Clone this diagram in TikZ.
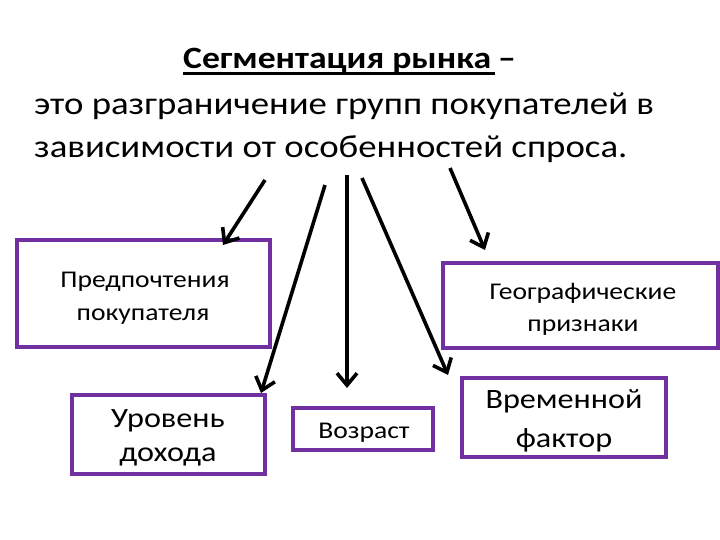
\documentclass[tikz,border=0pt]{standalone}
\usepackage{fontspec}
\usepackage{graphicx}
\setmainfont{Carlito}
\usetikzlibrary{arrows.meta}
\definecolor{boxpurple}{HTML}{7030A0}
\newcommand{\wideX}[1]{\scalebox{1.15}[1]{#1}}
\tikzset{
  segbox/.style={draw=boxpurple, line width=4pt, fill=white, inner sep=0pt},
  segarrow/.style={draw=black, line width=3.6pt, -{Straight Barb[length=12pt,width=20pt,line width=3.6pt]}},
  headtext/.style={anchor=base west, inner sep=0pt, font=\fontsize{32}{38}\selectfont},
  smalltext/.style={anchor=base, inner sep=0pt, font=\fontsize{24}{29}\selectfont},
  bigtext/.style={anchor=base, inner sep=0pt, font=\fontsize{28}{34}\selectfont}
}
\begin{document}
\begin{tikzpicture}[x=1pt,y=-1pt]
\useasboundingbox (0,0) rectangle (720,540);
\node[anchor=base west, inner sep=0pt, font=\fontsize{31}{37}\selectfont\bfseries] (t1) at (183,69) {\wideX{Сегментация рынка}};
\node[anchor=base west, inner sep=0pt, font=\fontsize{31}{37}\selectfont\bfseries] (t1d) at (498,69) {\wideX{–}};
\draw[line width=2.4pt] ([yshift=-4.5pt]t1.base west) -- ([yshift=-4.5pt,xshift=4pt]t1.base east);
\node[headtext] (t2) at (34,115) {\wideX{это разграничение групп покупателей в}};
\node[headtext] (t3) at (34,158) {\wideX{зависимости от особенностей спроса.}};

\node[segbox, minimum width=253pt, minimum height=107pt] (b1) at (143.5,293.5) {};
\node[segbox, minimum width=193pt, minimum height=79pt] (b2) at (168.5,434.5) {};
\node[segbox, minimum width=140pt, minimum height=42pt] (b3) at (363,429) {};
\node[segbox, minimum width=275pt, minimum height=85pt] (b4) at (580.5,305.5) {};
\node[segbox, minimum width=204pt, minimum height=79pt] (b5) at (564,417.5) {};

\node[smalltext] (l1a) at (145,287) {\wideX{Предпочтения}};
\node[smalltext] (l1b) at (143,320) {\wideX{покупателя}};
\node[bigtext] (l2a) at (168,427) {\wideX{Уровень}};
\node[bigtext] (l2b) at (168,461) {\wideX{дохода}};
\node[smalltext] (l3a) at (364,438) {\wideX{Возраст}};
\node[smalltext] (l4a) at (583,299) {\wideX{Географические}};
\node[smalltext] (l4b) at (583,331) {\wideX{признаки}};
\node[bigtext] (l5a) at (564,408) {\wideX{Временной}};
\node[bigtext] (l5b) at (564,447) {\wideX{фактор}};

\coordinate (s1) at (265,180);
\coordinate (e1) at (223,245);
\coordinate (s2) at (325,185);
\coordinate (e2) at (261,393);
\coordinate (s3) at (347,175);
\coordinate (e3) at (347,388);
\coordinate (s4) at (362,178);
\coordinate (e4) at (448,375);
\coordinate (s5) at (450,168);
\coordinate (e5) at (485,250);

\draw[segarrow] (s1) -- (e1);
\draw[segarrow] (s2) -- (e2);
\draw[segarrow] (s3) -- (e3);
\draw[segarrow] (s4) -- (e4);
\draw[segarrow] (s5) -- (e5);
\end{tikzpicture}
\end{document}
